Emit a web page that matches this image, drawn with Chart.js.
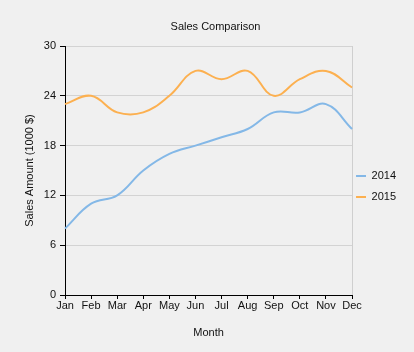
<!DOCTYPE html>
<html>
<head>
<meta charset="utf-8">
<script src="https://cdn.jsdelivr.net/npm/chart.js@4.4.1/dist/chart.umd.min.js"></script>
<style>
  html, body { margin: 0; padding: 0; background: #f0f0f0; }
  #wrap { width: 414px; height: 352px; position: relative; }
</style>
</head>
<body>
<div id="wrap"><canvas id="salesChart"></canvas></div>
<script>
// chart data
let months = ["Jan", "Feb", "Mar", "Apr", "May", "Jun", "Jul", "Aug", "Sep", "Oct", "Nov", "Dec"];
let sales2014 = [8, 11, 12, 15, 17, 18, 19, 20, 22, 22, 23, 20];
let sales2015 = [23, 24, 22, 22, 24, 27, 26, 27, 24, 26, 27, 25];
let seriesNames = ["2014", "2015"];

let blue = "#84b8e7";
let orange = "#fcb050";
let fontFamily = "'Liberation Sans', Arial, sans-serif";

Chart.defaults.font.family = fontFamily;
Chart.defaults.font.size = 11;
Chart.defaults.color = "#1a1a1a";

// move legend a bit closer to the plot
const legendShift = {
    id: "legendShift",
    afterLayout(chart) {
        chart.legend.left -= 6;
        chart.legend.right -= 6;
    }
};

let ctx = document.getElementById("salesChart").getContext("2d");

new Chart(ctx, {
    type: "line",
    data: {
        labels: months,
        datasets: [
            {
                label: seriesNames[0],
                data: sales2014,
                borderColor: blue,
                backgroundColor: blue,
                borderWidth: 2,
                pointRadius: 0,
                tension: 0.4,
                fill: false
            },
            {
                label: seriesNames[1],
                data: sales2015,
                borderColor: orange,
                backgroundColor: orange,
                borderWidth: 2,
                pointRadius: 0,
                tension: 0.4,
                fill: false
            }
        ]
    },
    plugins: [legendShift],
    options: {
        responsive: true,
        maintainAspectRatio: false,
        animation: false,
        layout: {
            padding: { left: 19, right: 2, top: 0, bottom: 8 }
        },
        scales: {
            x: {
                offset: false,
                border: { color: "#000", width: 1 },
                grid: {
                    color: (c) => c.index === months.length - 1 ? "#cfcfcf" : "rgba(0,0,0,0)",
                    tickColor: "#000",
                    tickLength: 4
                },
                ticks: { padding: 0, maxRotation: 0, autoSkip: false, color: "#111" },
                title: {
                    display: true,
                    text: "Month",
                    color: "#111",
                    padding: { top: 4, bottom: 4 }
                },
                afterFit: (scale) => { scale.height = 49; }
            },
            y: {
                min: 0,
                max: 30,
                border: { color: "#000", width: 1 },
                grid: {
                    color: "#d3d3d3",
                    tickColor: "#000",
                    tickLength: 5
                },
                ticks: { stepSize: 6, padding: 4, color: "#111" },
                title: {
                    display: true,
                    text: "Sales Amount (1000 $)",
                    color: "#111",
                    padding: { top: 4, bottom: 4 }
                },
                afterFit: (scale) => { scale.width = 46; }
            }
        },
        plugins: {
            title: {
                display: true,
                text: "Sales Comparison",
                color: "#111",
                font: { size: 11, weight: "normal" },
                padding: { top: 20, bottom: 12.8 }
            },
            legend: {
                position: "right",
                title: {
                    display: true,
                    text: "",
                    font: { size: 10 },
                    padding: 8.5
                },
                labels: {
                    boxWidth: 10,
                    boxHeight: 2,
                    padding: 10,
                    color: "#111",
                    font: { size: 11 },
                    generateLabels: (chart) => {
                        let items = Chart.defaults.plugins.legend.labels.generateLabels(chart);
                        items.forEach(item => {
                            item.lineWidth = 0;
                            item.fillStyle = item.strokeStyle;
                        });
                        return items;
                    }
                }
            },
            tooltip: { enabled: false }
        }
    }
});
</script>
</body>
</html>
